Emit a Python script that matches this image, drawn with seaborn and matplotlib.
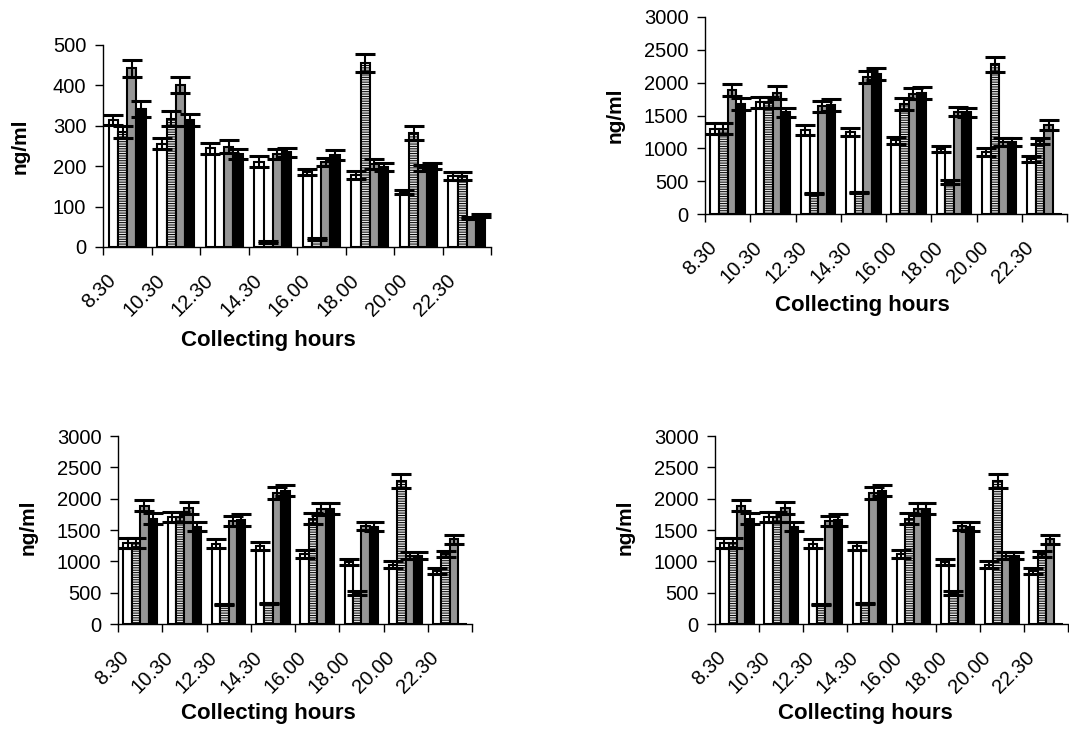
import matplotlib
matplotlib.use("Agg")
import matplotlib.pyplot as plt
import matplotlib.transforms as mtrans
import seaborn as sns
import pandas as pd
import numpy as np

# Collection times (categories on the x axis)
hours = ["8.30", "10.30", "12.30", "14.30", "16.00", "18.00", "20.00", "22.30"]
series_names = ["A", "B", "C", "D"]

# Panel 1 (0-500 ng/ml): means and errors per series
p1_a = [314, 256, 244, 211, 186, 178, 135, 175]
p1_b = [285, 318, 0, 13, 20, 456, 283, 175]
p1_c = [442, 401, 248, 231, 211, 205, 195, 72]
p1_d = [341, 314, 231, 235, 227, 197, 200, 78]
p1_a_err = [12, 13, 14, 14, 7, 9, 5, 10]
p1_b_err = [14, 18, 0, 2, 2, 22, 17, 10]
p1_c_err = [20, 19, 16, 12, 10, 12, 8, 3]
p1_d_err = [20, 15, 12, 11, 12, 10, 8, 3]

# Panels 2-4 (0-3000 ng/ml)
p2_a = [1300, 1700, 1280, 1245, 1120, 985, 945, 842]
p2_b = [1300, 1700, 310, 330, 1680, 490, 2280, 1112]
p2_c = [1890, 1850, 1640, 2085, 1835, 1560, 1090, 1350]
p2_d = [1680, 1550, 1660, 2128, 1840, 1550, 1090, 0]
p2_a_err = [80, 80, 70, 60, 60, 45, 58, 45]
p2_b_err = [80, 80, 10, 10, 90, 30, 115, 50]
p2_c_err = [90, 100, 80, 95, 90, 65, 60, 75]
p2_d_err = [90, 70, 90, 90, 90, 70, 60, 0]

y_ticks_small = [0, 100, 200, 300, 400, 500]
y_ticks_large = [0, 500, 1000, 1500, 2000, 2500, 3000]

FILL = {"A": "#ffffff", "B": "#e4e4e4", "C": "#969696", "D": "#000000"}

W, H = 1069, 735
sns.set_theme(style="white")
plt.rcParams["font.family"] = ["Liberation Sans", "DejaVu Sans"]
plt.rcParams["text.color"] = "black"
plt.rcParams["xtick.color"] = "black"
plt.rcParams["ytick.color"] = "black"
plt.rcParams["axes.labelcolor"] = "black"
plt.rcParams["hatch.color"] = "#8a8a8a"
plt.rcParams["hatch.linewidth"] = 0.7

fig = plt.figure(figsize=(W / 100, H / 100), dpi=100)


def px_axes(x0, x1, ytop, ybot):
    return fig.add_axes([x0 / W, 1 - ybot / H, (x1 - x0) / W, (ybot - ytop) / H])


def panel(ax, vals, errs, ymax, yticks, ylab_px, xtitle_px):
    rows = []
    for name, v in zip(series_names, vals):
        for h, val in zip(hours, v):
            rows.append({"hour": h, "series": name, "value": val})
    df = pd.DataFrame(rows)
    sns.barplot(data=df, x="hour", y="value", hue="series", order=hours,
                hue_order=series_names, palette=FILL, errorbar=None,
                width=0.76, gap=0, saturation=1, legend=False, ax=ax)
    for name, cont, err in zip(series_names, ax.containers, errs):
        for bar in cont:
            bar.set_edgecolor("black")
            bar.set_linewidth(1.5)
            if name == "B":
                bar.set_hatch("-------")
        xs = [b.get_x() + b.get_width() / 2 for b in cont]
        ys = [b.get_height() for b in cont]
        for x, y, e in zip(xs, ys, err):
            if y <= 0:
                continue
            ax.errorbar(x, y, yerr=e, fmt="none", ecolor="black",
                        elinewidth=1.5, capsize=7.5, capthick=2.2, zorder=5)
    ax.set_xlim(-0.5, len(hours) - 0.5)
    ax.set_ylim(0, ymax)
    ax.set_yticks(yticks)
    ax.set_yticklabels([str(t) for t in yticks], fontsize=14.5, color="black")
    ax.set_xticks(range(len(hours)))
    ax.set_xticklabels(hours, fontsize=14.5, rotation=45, ha="right",
                       va="center", rotation_mode="anchor", color="black")
    ax.set_xticks(np.arange(-0.5, len(hours), 1.0), minor=True)
    ax.tick_params(axis="x", which="major", length=0, pad=22)
    ax.tick_params(axis="x", which="minor", length=6, width=1, color="black",
                   direction="out", bottom=True)
    ax.tick_params(axis="y", length=6, width=1, color="black",
                   direction="out", left=True, pad=6)
    # nudge the rotated hour labels so their upper end sits left of centre
    shift = mtrans.ScaledTranslation(-0.14, 0, fig.dpi_scale_trans)
    for tick in ax.xaxis.get_major_ticks():
        tick.label1.set_transform(tick.label1.get_transform() + shift)
    for s in ("top", "right"):
        ax.spines[s].set_visible(False)
    for s in ("left", "bottom"):
        ax.spines[s].set_color("black")
        ax.spines[s].set_linewidth(1.0)
    ax.set_xlabel("")
    ax.set_ylabel("")
    ax.grid(False)
    fig.text(ylab_px[0] / W, 1 - ylab_px[1] / H, "ng/ml", rotation=90,
             ha="center", va="center", fontsize=15, fontweight="bold")
    fig.text(xtitle_px[0] / W, 1 - xtitle_px[1] / H, "Collecting hours",
             ha="center", va="center", fontsize=16, fontweight="bold")


vals1 = [p1_a, p1_b, p1_c, p1_d]
errs1 = [p1_a_err, p1_b_err, p1_c_err, p1_d_err]
vals2 = [p2_a, p2_b, p2_c, p2_d]
errs2 = [p2_a_err, p2_b_err, p2_c_err, p2_d_err]

ax1 = px_axes(103, 491, 45, 247)
panel(ax1, vals1, errs1, 500, y_ticks_small, (20, 146), (268, 340))

ax2 = px_axes(705, 1067, 17, 214)
panel(ax2, vals2, errs2, 3000, y_ticks_large, (615, 115), (862, 306))

ax3 = px_axes(118, 472, 436, 624)
panel(ax3, vals2, errs2, 3000, y_ticks_large, (28, 527), (268, 713))

ax4 = px_axes(715, 1068, 436, 624)
panel(ax4, vals2, errs2, 3000, y_ticks_large, (625, 527), (865, 713))

fig.savefig("out.png", dpi=100, facecolor="white")
